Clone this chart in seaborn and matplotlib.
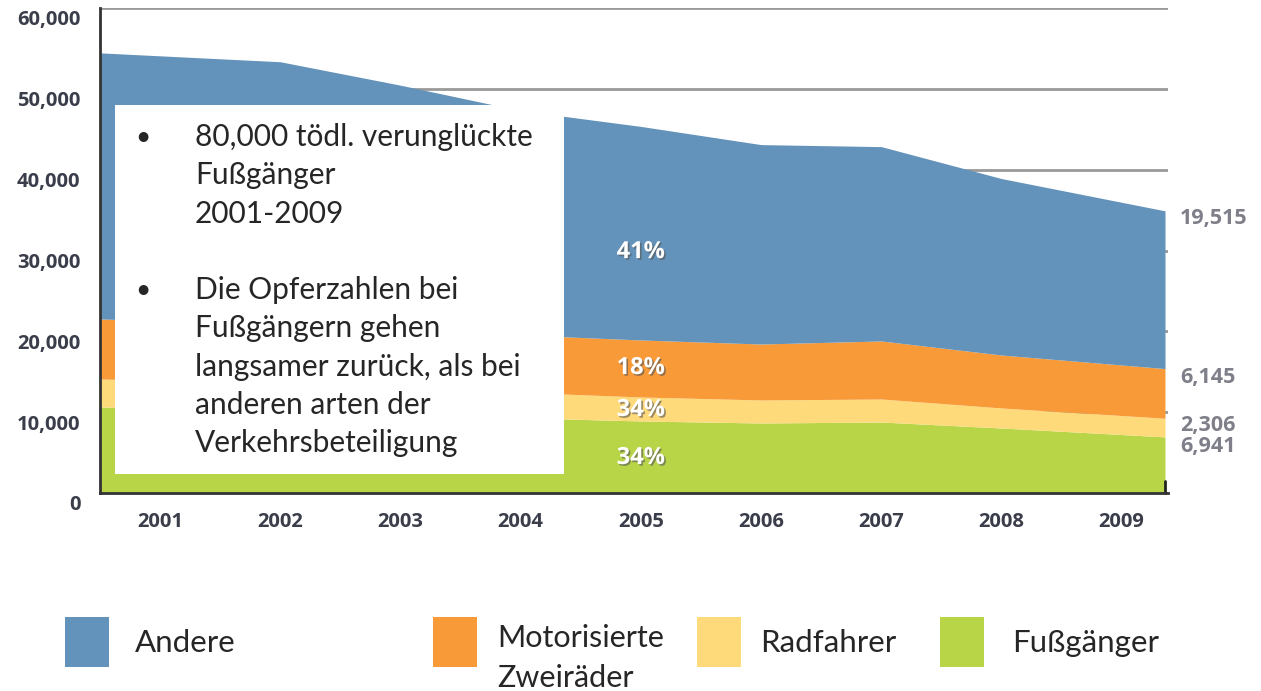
import matplotlib
matplotlib.use("Agg")
import matplotlib.pyplot as plt
import matplotlib.patheffects as pe
import matplotlib.transforms as mtransforms
from matplotlib.patches import Rectangle
import seaborn as sns
import numpy as np

# data (deaths per year, stacked)
years = [2001, 2002, 2003, 2004, 2005, 2006, 2007, 2008, 2009]
fussgaenger = [10640, 10200, 9800, 9300, 8910, 8660, 8780, 8040, 6941]
radfahrer = [3470, 3350, 3250, 3150, 2970, 2850, 2850, 2480, 2306]
motorisiert = [7420, 7350, 7200, 7100, 7050, 6920, 7180, 6550, 6145]
andere = [32920, 32450, 30200, 27750, 26420, 24670, 24040, 21830, 19515]

series_names = ["Andere", "Motorisierte\nZweiräder", "Radfahrer", "Fußgänger"]
colors = ["#6392ba", "#f89a38", "#ffda7b", "#b8d548"]
pct_labels = ["41%", "18%", "34%", "34%"]
pct_y = [29800, 15460, 10270, 4330]

box_lines = [
    ("•", "80,000 tödl. verunglückte"),
    ("", "Fußgänger"),
    ("", "2001-2009"),
    ("", ""),
    ("•", "Die Opferzahlen bei"),
    ("", "Fußgängern gehen"),
    ("", "langsamer zurück, als bei"),
    ("", "anderen arten der"),
    ("", "Verkehrsbeteiligung"),
]

sns.set_style("white")
plt.rcParams["font.family"] = ["Open Sans", "DejaVu Sans"]

fig = plt.figure(figsize=(12.61, 6.91), dpi=100)
ax = fig.add_axes([100 / 1261, 1 - 493 / 691, 1068 / 1261, 485 / 691])

x_left, x_right = 2000.5, 2009.385
x_end = 2009.36
# as in the original, first and last year sit on the plot edges
xs = list(years)
xs[0], xs[-1] = x_left, x_end
ax.stackplot(xs, fussgaenger, radfahrer, motorisiert, andere,
             colors=colors[::-1], linewidth=0, zorder=2)

ax.set_xlim(x_left, x_right)
ax.set_ylim(0, 60000)
ax.set_xticks(years)
ax.set_xticklabels([str(y) for y in years])
ax.set_yticks(range(0, 60001, 10000))
ax.set_yticklabels([f"{v:,}" for v in range(0, 60001, 10000)])
ax.yaxis.grid(True, color="#999999", linewidth=2)
ax.set_axisbelow(True)
ax.tick_params(axis="y", length=0, pad=14, labelsize=14.5, labelcolor="#3a3d4a")
ax.tick_params(axis="x", length=0, pad=14, labelsize=14.5, labelcolor="#3a3d4a")
shift = mtransforms.ScaledTranslation(0, -10 / 100, fig.dpi_scale_trans)
for lab in ax.get_yticklabels():
    lab.set_fontweight("bold")
    lab.set_transform(lab.get_transform() + shift)
for lab in ax.get_xticklabels():
    lab.set_fontweight("bold")

sns.despine(ax=ax, top=True, right=True)
for side in ["left", "bottom"]:
    ax.spines[side].set_color("#333333")
    ax.spines[side].set_linewidth(2)
    ax.spines[side].set_zorder(3)
ax.plot([x_end, x_end], [0, 1500], color="#222222", lw=2, zorder=3, clip_on=False)

# percentages inside areas
shadow = [pe.withSimplePatchShadow(offset=(1.2, -1.2), shadow_rgbFace="#555555", alpha=0.6)]
for lab, yv in zip(pct_labels, pct_y):
    ax.text(2005, yv, lab, color="white", fontsize=17, fontweight="bold",
            ha="center", va="center", path_effects=shadow, zorder=4)

# values for 2009 at right edge
last_vals = [andere[-1], motorisiert[-1], radfahrer[-1], fussgaenger[-1]]
tops = np.cumsum([fussgaenger[-1], radfahrer[-1], motorisiert[-1], andere[-1]])[::-1]
offsets = [900, 1150, 850, 1250]
for v, t, o in zip(last_vals, tops, offsets):
    ax.text(2009.485, t - o, f"{v:,}", color="#7f7f8a", fontsize=15.5,
            fontweight="bold", ha="left", va="center", clip_on=False)

# white text box
fig.patches.append(Rectangle((115 / 1261, 1 - 474 / 691), 449 / 1261, 369 / 691,
                             transform=fig.transFigure, facecolor="white",
                             edgecolor="none", zorder=5))
y0 = 137
for i, (bullet, line) in enumerate(box_lines):
    yy = 1 - (y0 + i * 38.3) / 691
    if bullet:
        fig.text(143 / 1261, yy, bullet, fontsize=19, family="Lato",
                 va="center", ha="center", zorder=6)
    if line:
        fig.text(195 / 1261, yy, line, fontsize=21.5, family="Lato",
                 va="center", ha="left", zorder=6)

# legend drawn by hand
leg_x = [65, 433, 697, 940]
txt_x = [135, 497, 760, 1012]
for name, c, px, tx in zip(series_names, colors, leg_x, txt_x):
    fig.patches.append(Rectangle((px / 1261, 1 - 667 / 691), 44 / 1261, 50 / 691,
                                 transform=fig.transFigure, facecolor=c, edgecolor="none"))
    if "\n" in name:
        l1, l2 = name.split("\n")
        fig.text(tx / 1261, 1 - 638 / 691, l1, fontsize=22, family="Lato", va="center")
        fig.text(tx / 1261, 1 - 678 / 691, l2, fontsize=22, family="Lato", va="center")
    else:
        fig.text(tx / 1261, 1 - 643 / 691, name, fontsize=22.5, family="Lato", va="center")

fig.savefig("out.png", dpi=100)
